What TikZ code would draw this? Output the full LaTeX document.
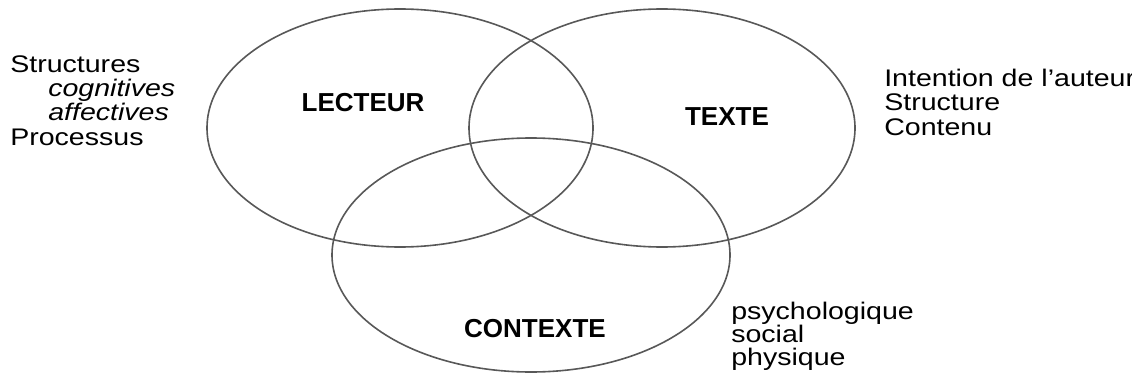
\documentclass[tikz,border=0pt]{standalone}
\usepackage{graphicx}
\usepackage{fontspec}
\setmainfont{Liberation Sans}
\newcommand\xstretch[1]{\scalebox{1.19}[1]{#1}}
\begin{document}
\begin{tikzpicture}[x=0.75pt,y=-0.75pt,
  ring/.style={draw={rgb,255:red,88;green,88;blue,88},line width=1.2pt},
  lbl/.style={inner sep=0pt,anchor=base west,font=\fontsize{18}{18}\selectfont},
  title/.style={inner sep=0pt,anchor=base,font=\fontsize{19.5}{19.5}\selectfont\bfseries}]
\useasboundingbox (0,0) rectangle (1132,385);
% circles
\coordinate (cL) at (400,128);
\coordinate (cT) at (662,128);
\coordinate (cC) at (531,255);
\draw[ring] (cL) ellipse [x radius=193, y radius=119];
\draw[ring] (cT) ellipse [x radius=193, y radius=119];
\draw[ring] (cC) ellipse [x radius=199, y radius=117];
% titles
\node[title] (lecteur) at (363,112) {LECTEUR};
\node[title] (texte) at (727,126) {TEXTE};
\node[title] (contexte) at (535,337) {CONTEXTE};
% left list
\node[lbl] (l1) at (10,73) {\xstretch{Structures}};
\node[lbl] (l2) at (48,97) {\xstretch{\itshape cognitives}};
\node[lbl] (l3) at (48,121) {\xstretch{\itshape affectives}};
\node[lbl] (l4) at (10,145) {\xstretch{Processus}};
% right list
\node[lbl] (r1) at (884,87) {\xstretch{Intention de l’auteur}};
\node[lbl] (r2) at (884,111) {\xstretch{Structure}};
\node[lbl] (r3) at (884,135) {\xstretch{Contenu}};
% bottom list
\node[lbl] (b1) at (731,319) {\xstretch{psychologique}};
\node[lbl] (b2) at (731,342) {\xstretch{social}};
\node[lbl] (b3) at (731,365) {\xstretch{physique}};
\end{tikzpicture}
\end{document}
